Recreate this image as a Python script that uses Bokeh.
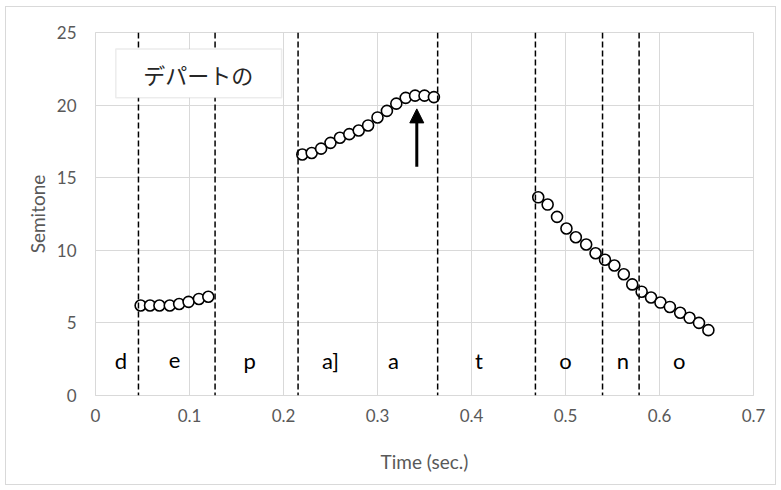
from bokeh.plotting import figure
from bokeh.models import Span, BoxAnnotation, Label, Arrow, NormalHead, FixedTicker, CustomJSTickFormatter, Range1d, ColumnDataSource
from bokeh.core.properties import value
from bokeh.embed import file_html
from bokeh.resources import INLINE

# --- data ---
t_de = [0.048, 0.058, 0.068, 0.079, 0.089, 0.099, 0.110, 0.120]
f_de = [6.2, 6.2, 6.2, 6.2, 6.3, 6.45, 6.65, 6.8]

t_paa = [0.220, 0.230, 0.240, 0.250, 0.260, 0.270, 0.280, 0.290, 0.300, 0.310,
         0.320, 0.330, 0.340, 0.350, 0.360]
f_paa = [16.6, 16.7, 17.0, 17.4, 17.75, 18.0, 18.25, 18.6, 19.15, 19.6,
         20.1, 20.5, 20.65, 20.65, 20.55]

t_tono = [0.471, 0.481, 0.491, 0.501, 0.511, 0.522, 0.532, 0.542, 0.552, 0.562,
          0.571, 0.581, 0.591, 0.601, 0.611, 0.622, 0.632, 0.642, 0.652]
f_tono = [13.65, 13.15, 12.3, 11.5, 10.9, 10.4, 9.8, 9.35, 8.95, 8.35,
          7.65, 7.15, 6.75, 6.4, 6.1, 5.7, 5.35, 5.0, 4.5]

boundaries = [0.0457, 0.1272, 0.2155, 0.364, 0.468, 0.5394, 0.5783]
seg_labels = ["d", "e", "p", "a]", "a", "t", "o", "n", "o"]
seg_label_x = [0.027, 0.084, 0.164, 0.250, 0.317, 0.408, 0.500, 0.561, 0.621]
seg_label_y = [2.4] * len(seg_labels)

x_ticks = [0, 0.1, 0.2, 0.3, 0.4, 0.5, 0.6, 0.7]
y_ticks = [0, 5, 10, 15, 20, 25]

word = "デパートの"
arrow_x = 0.3418
arrow_y = (15.76, 19.74)

FONT = "Lato"
GRAY = "#595959"

p = figure(width=769, height=477, output_backend="svg", toolbar_location=None,
           x_range=Range1d(0, 0.7), y_range=Range1d(0, 25),
           min_border_left=89, min_border_right=22, min_border_top=25, min_border_bottom=89,
           margin=(7, 6, 6, 6))
p.styles = {"outline": "1px solid #d9d9d9"}
p.background_fill_color = "white"
p.border_fill_color = "white"
p.outline_line_color = "#d9d9d9"

p.xaxis.ticker = FixedTicker(ticks=x_ticks)
p.yaxis.ticker = FixedTicker(ticks=y_ticks)
p.xaxis.formatter = CustomJSTickFormatter(code="return Number(tick.toFixed(2)).toString();")
for ax in (p.xaxis[0], p.yaxis[0]):
    ax.axis_line_color = "#d9d9d9"
    ax.major_tick_line_color = None
    ax.minor_tick_line_color = None
    ax.major_tick_out = 0
    ax.major_tick_in = 0
    ax.major_label_text_font = FONT
    ax.major_label_text_font_size = "17px"
    ax.major_label_text_color = GRAY
    ax.axis_label_text_font = FONT
    ax.axis_label_text_font_size = "19px"
    ax.axis_label_text_color = GRAY
    ax.axis_label_text_font_style = "normal"
p.xaxis[0].axis_label = "Time (sec.)"
p.yaxis[0].axis_label = "Semitone"
p.xaxis[0].major_label_standoff = 13
p.xaxis[0].axis_label_standoff = 25
p.yaxis[0].major_label_standoff = 19
p.yaxis[0].axis_label_standoff = 5

p.xgrid.grid_line_color = "#d9d9d9"
p.ygrid.grid_line_color = "#d9d9d9"

# segment boundaries
for b in boundaries:
    p.add_layout(Span(location=b, dimension="height", line_color="black",
                      line_dash="6 3", line_width=1.5))

# pitch points
for tx, fy in ((t_de, f_de), (t_paa, f_paa), (t_tono, f_tono)):
    p.scatter(tx, fy, marker="circle", size=11, fill_color="white",
              line_color="black", line_width=1.6)

# segment labels
src = ColumnDataSource(dict(x=seg_label_x, y=seg_label_y, t=seg_labels))
p.text(x="x", y="y", text="t", source=src, text_align="center", text_baseline="middle",
       text_font=value(FONT), text_font_size="22px", text_color="black")

# word box
p.add_layout(BoxAnnotation(left=0.0216, right=0.198, bottom=20.5, top=23.87,
                           fill_color="white", fill_alpha=1.0,
                           line_color="#bfbfbf", line_width=1.5))
p.add_layout(Label(x=0.1094, y=22.15, text=word, text_align="center", text_baseline="middle",
                   text_font="Noto Sans CJK JP", text_font_size="22px", text_color="#262626"))

# arrow
p.add_layout(Arrow(x_start=arrow_x, y_start=arrow_y[0], x_end=arrow_x, y_end=arrow_y[1],
                   line_width=3, line_color="black",
                   end=NormalHead(size=14, fill_color="black", line_color="black")))

open("out.html", "w").write(file_html(p, INLINE))
